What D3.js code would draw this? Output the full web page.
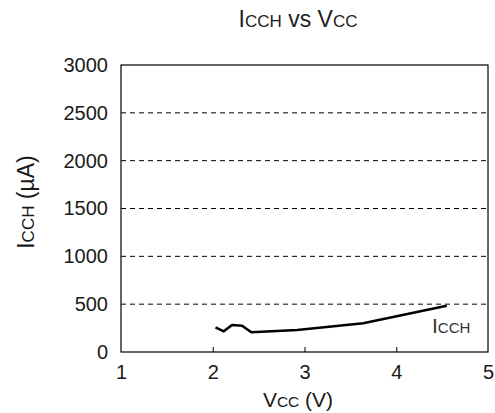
<!DOCTYPE html>
<html><head><meta charset="utf-8">
<script src="https://cdn.jsdelivr.net/npm/d3@7"></script>
<style>body{margin:0;background:#fff}svg{font-family:"Liberation Sans",Arial,sans-serif}</style>
</head><body><svg id="c" width="495" height="413"></svg>
<script>
const vcc = [2.03, 2.12, 2.21, 2.32, 2.42, 2.92, 3.64, 4.55];
const icch = [258, 216, 282, 275, 206, 230, 300, 484];
const xTicks = [1, 2, 3, 4, 5];
const yTicks = [0, 500, 1000, 1500, 2000, 2500, 3000];

const svg = d3.select("#c");
const m = {l: 121, r: 488, t: 65, b: 352};
const x = d3.scaleLinear().domain([1, 5]).range([m.l, m.r]);
const y = d3.scaleLinear().domain([0, 3000]).range([m.b, m.t]);
const FF = "Liberation Sans, Arial, sans-serif";
const TC = "#1a1a1a";

// gridlines
svg.append("g").selectAll("line").data(yTicks.filter(d => d > 0 && d < 3000)).join("line")
  .attr("x1", m.l).attr("x2", m.r).attr("y1", d => y(d)).attr("y2", d => y(d))
  .attr("stroke", "#000").attr("stroke-width", 1).attr("stroke-dasharray", "5,4");

// box
svg.append("rect").attr("x", m.l).attr("y", m.t).attr("width", m.r - m.l).attr("height", m.b - m.t)
  .attr("fill", "none").attr("stroke", "#000").attr("stroke-width", 1.2);

// x axis
const xa = svg.append("g").attr("transform", `translate(0,${m.b})`)
  .call(d3.axisBottom(x).tickValues(xTicks).tickFormat(d3.format("d")).tickSizeInner(-5).tickSizeOuter(0).tickPadding(13));
xa.select(".domain").remove();
xa.selectAll("text").attr("font-size", 20).attr("fill", TC).attr("font-family", FF);
xa.selectAll(".tick line").filter(d => d === 1 || d === 5).remove();

// y axis
const ya = svg.append("g").attr("transform", `translate(${m.l},0)`)
  .call(d3.axisLeft(y).tickValues(yTicks).tickFormat(d3.format("d")).tickSize(0).tickPadding(13));
ya.select(".domain").remove();
ya.selectAll("text").attr("font-size", 20).attr("fill", TC).attr("font-family", FF);

// line
const pts = vcc.map((v, i) => [v, icch[i]]);
svg.append("path").datum(pts)
  .attr("d", d3.line().x(d => x(d[0])).y(d => y(d[1])))
  .attr("fill", "none").attr("stroke", "#000").attr("stroke-width", 2.6).attr("stroke-linejoin", "round");

// series label
const lab = svg.append("text").attr("x", 432).attr("y", 333).attr("fill", "#333");
lab.append("tspan").attr("font-size", 21).text("I");
lab.append("tspan").attr("font-size", 15).text("CCH");

// title
const t = svg.append("text").attr("x", 298).attr("y", 27).attr("text-anchor", "middle").attr("fill", "#222");
t.append("tspan").attr("font-size", 23).text("I");
t.append("tspan").attr("font-size", 17).text("CCH");
t.append("tspan").attr("font-size", 23).text(" vs V");
t.append("tspan").attr("font-size", 17).text("CC");

// x title
const xt = svg.append("text").attr("x", 298).attr("y", 407).attr("text-anchor", "middle").attr("fill", TC);
xt.append("tspan").attr("font-size", 21).text("V");
xt.append("tspan").attr("font-size", 15.5).text("CC");
xt.append("tspan").attr("font-size", 21).text(" (V)");

// y title
const yt = svg.append("text").attr("transform", "translate(34,202) rotate(-90)").attr("text-anchor", "middle").attr("fill", TC);
yt.append("tspan").attr("font-size", 23).text("I");
yt.append("tspan").attr("font-size", 17).text("CCH");
yt.append("tspan").attr("font-size", 23).text(" (µA)");
</script></body></html>
